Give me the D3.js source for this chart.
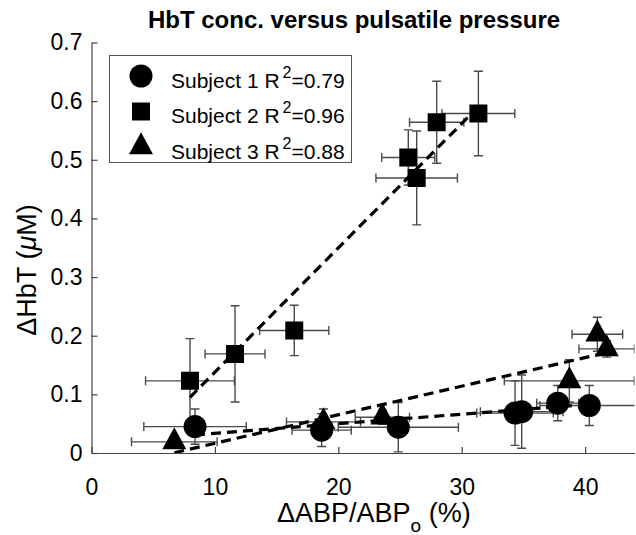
<!DOCTYPE html>
<html><head><meta charset="utf-8">
<script src="https://cdn.jsdelivr.net/npm/d3@7"></script>
<style>body{margin:0;background:#fff} svg{display:block;font-family:"Liberation Sans",Arial,sans-serif}</style>
</head><body><svg id="c" width="636" height="535"></svg>
<script>
// ---- data ----
const xTicks = [0, 10, 20, 30, 40];
const yTicks = [0, 0.1, 0.2, 0.3, 0.4, 0.5, 0.6, 0.7];

const s1X    = [8.39, 18.65, 24.86, 34.32, 34.86, 37.78, 40.34];
const s1Y    = [0.045, 0.039, 0.044, 0.068, 0.0705, 0.085, 0.081];
const s1Xerr = [4.15, 2.4, 4.87, 3.1, 3.35, 1.7, 4.0];
const s1Yerr = [0.03, 0.028, 0.042, 0.055, 0.0625, 0.03, 0.034];

const s2X    = [7.98, 11.63, 16.43, 25.67, 26.35, 27.97, 31.35];
const s2Y    = [0.123, 0.169, 0.209, 0.504, 0.469, 0.564, 0.579];
const s2Xerr = [3.6, 2.43, 2.8, 2.15, 3.3, 2.2, 2.95];
const s2Yerr = [0.072, 0.082, 0.043, 0.047, 0.08, 0.07, 0.072];

const s3X    = [6.71, 18.8, 23.57, 38.72, 40.99, 41.75];
const s3Y    = [0.019, 0.053, 0.061, 0.123, 0.2025, 0.1775];
const s3Xerr = [3.47, 3.0, 2.2, 5.27, 2.05, 2.25];
const s3Yerr = [0.01, 0.022, 0.012, 0.036, 0.029, 0.014];

const fitSlope     = [0.00163, 0.0212, 0.00487];
const fitIntercept = [0.0173, -0.0742, -0.0322];

const legendNames = ["Subject 1 R", "Subject 2 R", "Subject 3 R"];
const legendR2    = ["=0.79", "=0.96", "=0.88"];
const titleText = "HbT conc. versus pulsatile pressure";

// ---- layout ----
const svg = d3.select("#c");
const x = d3.scaleLinear().domain([0, 44]).range([91.5, 634.5]);
const y = d3.scaleLinear().domain([0, 0.7]).range([453, 42.5]);

const subjects = [
  {X: s1X, Y: s1Y, Xe: s1Xerr, Ye: s1Yerr, shape: "circle"},
  {X: s2X, Y: s2Y, Xe: s2Xerr, Ye: s2Yerr, shape: "square"},
  {X: s3X, Y: s3Y, Xe: s3Xerr, Ye: s3Yerr, shape: "triangle"}
];

svg.append("defs").append("clipPath").attr("id", "clip")
  .append("rect").attr("x", 91.5).attr("y", 30).attr("width", 543).attr("height", 423.5);

const plot = svg.append("g").attr("clip-path", "url(#clip)");

function markerPath(shape) {
  if (shape === "circle") return "M-11.5,0A11.5,11.5 0 1,0 11.5,0A11.5,11.5 0 1,0 -11.5,0Z";
  if (shape === "square") return "M-9,-9H9V9H-9Z";
  const w = 24, h = 22;
  return `M0,${-2*h/3}L${w/2},${h/3}L${-w/2},${h/3}Z`;
}

const ebColor = "#4a4a4a", cap = 4.5;
subjects.forEach(s => {
  const g = plot.append("g").attr("stroke", ebColor).attr("stroke-width", 1.4).attr("fill", "none");
  s.X.forEach((xv, i) => {
    const cx = x(xv), cy = y(s.Y[i]);
    const x0 = x(xv - s.Xe[i]), x1 = x(xv + s.Xe[i]);
    const y0 = y(s.Y[i] - s.Ye[i]), y1 = y(s.Y[i] + s.Ye[i]);
    g.append("path").attr("d",
      `M${cx},${y0}V${y1}M${cx-cap},${y0}H${cx+cap}M${cx-cap},${y1}H${cx+cap}` +
      `M${x0},${cy}H${x1}M${x0},${cy-cap}V${cy+cap}M${x1},${cy-cap}V${cy+cap}`);
  });
});

subjects.forEach(s => {
  plot.append("g").selectAll("path").data(s.X).join("path")
    .attr("d", markerPath(s.shape))
    .attr("transform", (d, i) => `translate(${x(d)},${y(s.Y[i])})`)
    .attr("fill", "#000");
});

subjects.forEach((s, k) => {
  const xmin = d3.min(s.X), xmax = d3.max(s.X);
  plot.append("line")
    .attr("x1", x(xmin)).attr("y1", y(fitIntercept[k] + fitSlope[k] * xmin))
    .attr("x2", x(xmax)).attr("y2", y(fitIntercept[k] + fitSlope[k] * xmax))
    .attr("stroke", "#000").attr("stroke-width", 3.2).attr("stroke-dasharray", "10,6");
});

// axes
const xAxis = svg.append("g").attr("transform", "translate(0,453)")
  .call(d3.axisBottom(x).tickValues(xTicks).tickSizeInner(-6).tickSizeOuter(0).tickPadding(26).tickFormat(d3.format("d")));
const yAxis = svg.append("g").attr("transform", "translate(91.5,0)")
  .call(d3.axisLeft(y).tickValues(yTicks).tickSizeInner(-6).tickSizeOuter(0).tickPadding(9).tickFormat(d => d === 0 ? "0" : d3.format(".1f")(d)));
[xAxis, yAxis].forEach(a => {
  a.selectAll("path,line").attr("stroke", "#444").attr("stroke-width", 1.2);
  a.selectAll("text").attr("font-size", 23).attr("fill", "#000").attr("font-family", "Liberation Sans, Arial, sans-serif");
});

// title
svg.append("text").attr("x", 354).attr("y", 28).attr("text-anchor", "middle")
  .attr("font-size", 24).attr("font-weight", "bold").text(titleText);

// x label
const xl = svg.append("text").attr("x", 277).attr("y", 522).attr("font-size", 27);
xl.append("tspan").text("\u0394ABP/ABP");
xl.append("tspan").attr("font-size", 19).attr("dy", 10).text("o");
xl.append("tspan").attr("dy", -10).text(" (%)");

// y label
const yl = svg.append("text").attr("transform", "translate(36,270) rotate(-90)")
  .attr("text-anchor", "middle").attr("font-size", 27);
yl.append("tspan").text("\u0394HbT (");
yl.append("tspan").attr("font-style", "italic").text("\u03bc");
yl.append("tspan").text("M)");

// legend
const lg = svg.append("g");
lg.append("rect").attr("x", 109.5).attr("y", 55.5).attr("width", 242).attr("height", 107)
  .attr("fill", "#fff").attr("stroke", "#555").attr("stroke-width", 1);
subjects.forEach((s, k) => {
  const cy = 76 + k * 35.5;
  lg.append("path").attr("d", markerPath(s.shape)).attr("transform", `translate(141,${cy})`).attr("fill", "#000");
  const t = lg.append("text").attr("x", 171).attr("y", cy + 11.5).attr("font-size", 21);
  t.append("tspan").text(legendNames[k]);
  t.append("tspan").attr("dx", 3).attr("dy", -10).attr("font-size", 16).text("2");
  t.append("tspan").attr("dy", 10).text(legendR2[k]);
});
</script></body></html>
